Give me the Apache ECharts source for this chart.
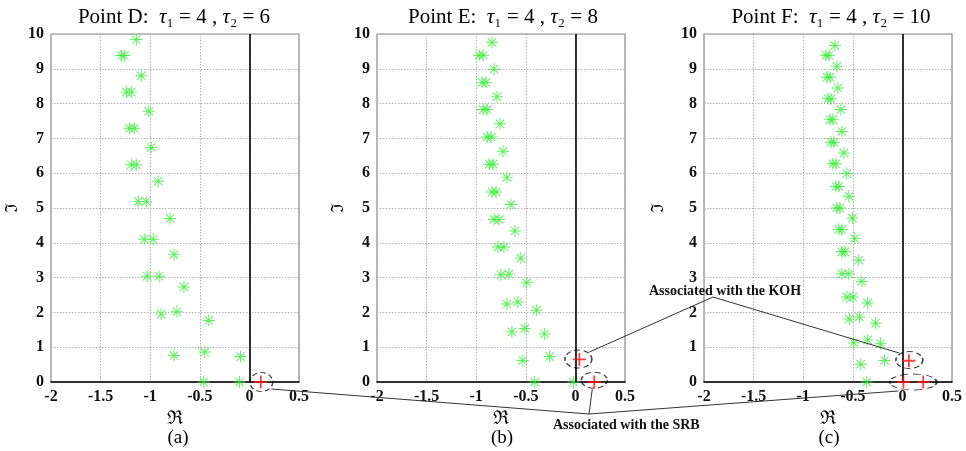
<!DOCTYPE html>
<html><head><meta charset="utf-8">
<script src="https://cdn.jsdelivr.net/npm/echarts/dist/echarts.min.js"></script>
<style>html,body{margin:0;padding:0;background:#fff}#c{width:966px;height:451px}</style>
</head><body><div id="c"></div><script>
// ---------- data ----------
const xTickMin = -2, xTickMax = 0.5, xTickStep = 0.5;
const yTickMin = 0, yTickMax = 10, yTickStep = 1;
const panelTitles = ['Point D', 'Point E', 'Point F'];
const tau1 = [4, 4, 4];
const tau2 = [6, 8, 10];
const subLabels = ['(a)', '(b)', '(c)'];

// Panel D (a) : green eigenvalues
const reD = [-1.14,-1.29,-1.26,-1.09,-1.24,-1.19,-1.015,-1.21,-1.16,-0.99,-1.19,-1.14,-0.92,-1.12,-1.04,-0.80,-1.06,-0.97,-0.76,-1.03,-0.91,-0.66,-0.89,-0.73,-0.41,-0.76,-0.45,-0.09,-0.46,-0.10];
const imD = [9.84,9.38,9.38,8.80,8.33,8.33,7.78,7.29,7.29,6.74,6.245,6.245,5.77,5.19,5.19,4.70,4.10,4.10,3.66,3.04,3.04,2.73,1.95,2.02,1.77,0.76,0.86,0.73,0,0];
const redReD = [0.115];
const redImD = [0];

// Panel E (b)
const reE = [-0.84,-0.97,-0.93,-0.82,-0.94,-0.90,-0.79,-0.93,-0.89,-0.76,-0.89,-0.85,-0.73,-0.87,-0.83,-0.69,-0.84,-0.80,-0.65,-0.82,-0.77,-0.61,-0.78,-0.72,-0.55,-0.75,-0.67,-0.49,-0.69,-0.58,-0.39,-0.64,-0.51,-0.31,-0.53,-0.26,-0.41,-0.02];
const imE = [9.76,9.39,9.39,8.99,8.61,8.61,8.20,7.83,7.83,7.42,7.04,7.04,6.63,6.26,6.26,5.88,5.46,5.46,5.10,4.67,4.67,4.34,3.88,3.88,3.56,3.08,3.10,2.85,2.24,2.30,2.06,1.44,1.54,1.38,0.62,0.73,0,0];
const redReE = [0.04, 0.19];
const redImE = [0.65, 0];

// Panel F (c)
const reF = [-0.68,-0.77,-0.74,-0.66,-0.76,-0.73,-0.65,-0.75,-0.72,-0.62,-0.73,-0.70,-0.61,-0.72,-0.69,-0.59,-0.70,-0.67,-0.56,-0.67,-0.64,-0.54,-0.66,-0.63,-0.505,-0.64,-0.61,-0.48,-0.61,-0.58,-0.44,-0.61,-0.54,-0.41,-0.56,-0.50,-0.35,-0.535,-0.434,-0.27,-0.49,-0.35,-0.22,-0.42,-0.18,-0.36];
const imF = [9.67,9.39,9.39,9.07,8.76,8.76,8.45,8.14,8.14,7.83,7.54,7.54,7.20,6.89,6.89,6.58,6.27,6.27,5.99,5.62,5.62,5.34,5.00,5.00,4.71,4.38,4.38,4.12,3.74,3.74,3.50,3.11,3.11,2.89,2.44,2.44,2.27,1.81,1.87,1.69,1.13,1.21,1.10,0.51,0.62,0];
const redReF = [0.065, 0.01, 0.21];
const redImF = [0.61, 0, 0];

// dashed ellipses that circle the red roots (centre re, centre im)
const ellReD = [0.12];            const ellImD = [0];
const ellReE = [0.03, 0.19];      const ellImE = [0.66, 0.05];
const ellReF = [0.07, 0.11];      const ellImF = [0.63, 0];

// ---------- build ----------
const panels = [
  {re: reD, im: imD, rr: redReD, ri: redImD, er: ellReD, ei: ellImD, es: [[23,19]]},
  {re: reE, im: imE, rr: redReE, ri: redImE, er: ellReE, ei: ellImE, es: [[27,18],[26,16]]},
  {re: reF, im: imF, rr: redReF, ri: redImF, er: ellReF, ei: ellImF, es: [[27,17],[47,16]]}
];
const gridLefts = [51, 377, 704];
const serif = 'Liberation Serif';
const STAR = 'path://M9.2,0H10.8V20H9.2Z M0,9.2H20V10.8H0Z M2.43,3.57L3.57,2.43L17.57,16.43L16.43,17.57Z M16.43,2.43L17.57,3.57L3.57,17.57L2.43,16.43Z';
const PLUS = 'path://M4.3,0H5.7V4.3H10V5.7H5.7V10H4.3V5.7H0V4.3H4.3Z';

const zip = (a, b) => a.map((v, i) => [v, b[i]]);

const grid = [], xAxis = [], yAxis = [], series = [];
panels.forEach((p, i) => {
  grid.push({left: gridLefts[i], top: 34, width: 248, height: 348, show: true,
    borderColor: '#8a8a8a', borderWidth: 1.2, backgroundColor: '#fff'});
  xAxis.push({gridIndex: i, type: 'value', min: xTickMin, max: xTickMax, interval: xTickStep,
    name: 'ℜ', nameLocation: 'middle', nameGap: 25,
    nameTextStyle: {fontFamily: serif, fontSize: 19, color: '#000'},
    axisLine: {show: true, onZero: false, lineStyle: {color: '#000', width: 1.6}},
    axisTick: {show: false},
    axisLabel: {fontFamily: serif, fontWeight: 'bold', fontSize: 16, color: '#111', margin: 7},
    splitLine: {show: true, lineStyle: {color: '#b0b0b0', type: [1.5, 1.5], width: 1}}
  });
  yAxis.push({gridIndex: i, type: 'value', min: yTickMin, max: yTickMax, interval: yTickStep,
    name: 'ℑ', nameLocation: 'middle', nameGap: 30 + (i === 2 ? 7 : 0), nameRotate: 90,
    nameTextStyle: {fontFamily: serif, fontSize: 17, color: '#000'},
    axisLine: {show: false}, axisTick: {show: false},
    axisLabel: {fontFamily: serif, fontWeight: 'bold', fontSize: 16, color: '#111', margin: 7},
    splitLine: {show: true, lineStyle: {color: '#b0b0b0', type: [1.5, 1.5], width: 1}}
  });
  series.push({type: 'scatter', xAxisIndex: i, yAxisIndex: i, data: zip(p.re, p.im),
    symbol: STAR, symbolSize: 12, itemStyle: {color: '#33ee33'}, z: 3, silent: true,
    markLine: {silent: true, symbol: ['none', 'none'], label: {show: false},
      lineStyle: {color: '#000', width: 1.6, type: 'solid'}, data: [{xAxis: 0}]}
  });
  series.push({type: 'scatter', xAxisIndex: i, yAxisIndex: i, data: zip(p.rr, p.ri),
    symbol: PLUS, symbolSize: 13, itemStyle: {color: '#ff1010'}, z: 5, silent: true});
  series.push({type: 'scatter', xAxisIndex: i, yAxisIndex: i,
    data: p.er.map((v, k) => ({value: [v, p.ei[k]], symbolSize: p.es[k]})),
    symbol: 'circle', itemStyle: {color: 'rgba(0,0,0,0)', borderColor: '#111', borderWidth: 1.3, borderType: [5, 3]},
    z: 4, silent: true});
});

// panel titles as title components (real text)
const centers = [169, 498, 826];
const title = panels.map((p, i) => ({
  text: '{r|' + panelTitles[i] + ':  }{i|τ}{r|₁ = ' + tau1[i] + ' , }{i|τ}{r|₂ = ' + tau2[i] + '}',
  left: centers[i], top: 2, textAlign: 'center',
  textStyle: {fontFamily: serif, fontWeight: 'normal', fontSize: 21, color: '#000',
    rich: {
      r: {fontFamily: serif, fontWeight: 'normal', fontSize: 21, color: '#000'},
      i: {fontFamily: serif, fontWeight: 'normal', fontStyle: 'italic', fontSize: 21, color: '#000'}
    }}
}));

const chart = echarts.init(document.getElementById('c'), null, {renderer: 'canvas'});
chart.setOption({animation: false, backgroundColor: '#fff', title, grid, xAxis, yAxis, series});

// sub-labels / annotations
const graphic = [];
panels.forEach((p, i) => {
  graphic.push({type: 'text', x: gridLefts[i] + 124 + (i === 0 ? 3 : 1), y: 438, style: {
    text: subLabels[i], fontFamily: serif, fontSize: 19, fill: '#000', textAlign: 'center', textVerticalAlign: 'middle'}});
});
const px = (g, v) => chart.convertToPixel({gridIndex: g}, v);
const eB1 = px(1, [ellReE[0], ellImE[0]]), eC1 = px(2, [ellReF[0], ellImF[0]]);
const eA = px(0, [ellReD[0], ellImD[0]]), eB2 = px(1, [ellReE[1], ellImE[1]]), eC2 = px(2, [ellReF[1], ellImF[1]]);
const kohApex = [713, 297], srbApex = [589, 414];
const lineStyle = {stroke: '#333', lineWidth: 1, fill: null};
graphic.push({type: 'polyline', shape: {points: [[eB1[0] + 11, eB1[1] - 7], kohApex, [eC1[0] - 10, eC1[1] - 7]]}, style: lineStyle, z: 10});
graphic.push({type: 'polyline', shape: {points: [[eA[0] + 10, eA[1] + 7], srbApex, [eC2[0] - 15, eC2[1] + 9]]}, style: lineStyle, z: 10});
graphic.push({type: 'line', shape: {x1: srbApex[0], y1: srbApex[1], x2: eB2[0] - 2, y2: eB2[1] + 9}, style: lineStyle, z: 10});
graphic.push({type: 'text', x: 649, y: 291, style: {text: 'Associated with the KOH', fontFamily: serif, fontWeight: 'bold', fontSize: 14, fill: '#111', textVerticalAlign: 'middle'}, z: 11});
graphic.push({type: 'text', x: 553, y: 425, style: {text: 'Associated with the SRB', fontFamily: serif, fontWeight: 'bold', fontSize: 14, fill: '#111', textVerticalAlign: 'middle'}, z: 11});
chart.setOption({graphic});
</script></body></html>
